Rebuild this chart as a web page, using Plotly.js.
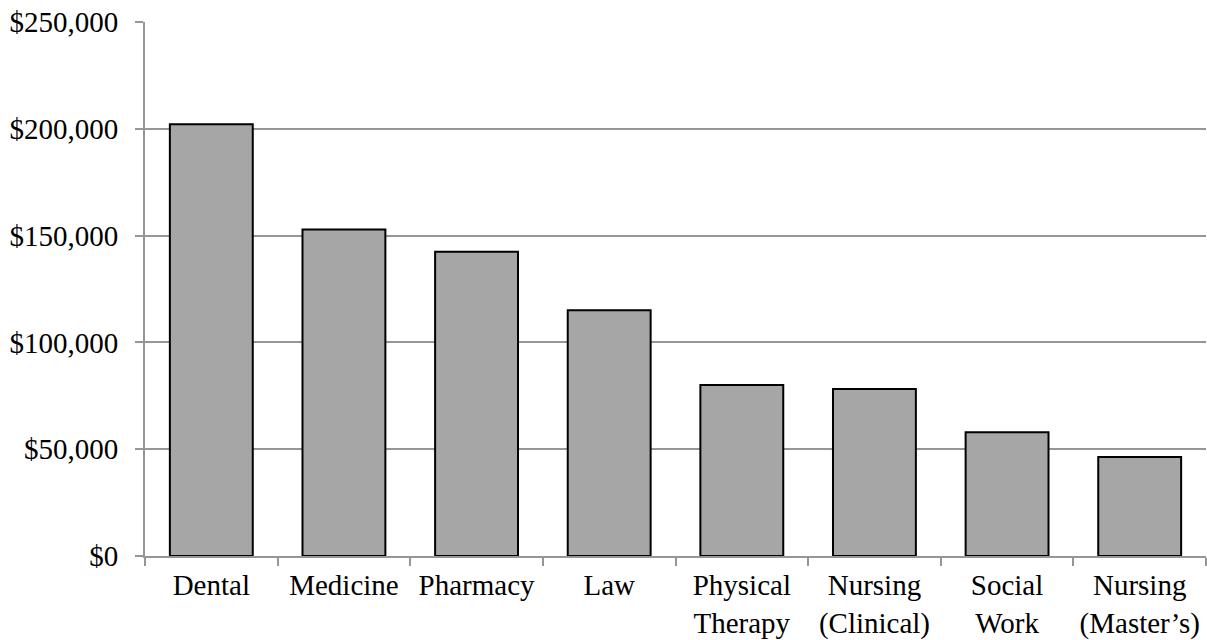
<!DOCTYPE html>
<html>
<head>
<meta charset="utf-8">
<script src="https://cdn.plot.ly/plotly-3.0.1.min.js"></script>
<style>
html,body{margin:0;padding:0;background:#fff;}
#chart{width:1207px;height:640px;}
</style>
</head>
<body>
<div id="chart"></div>
<script>
const categories = ["Dental", "Medicine", "Pharmacy", "Law", "Physical<br>Therapy", "Nursing<br>(Clinical)", "Social<br>Work", "Nursing<br>(Master\u2019s)"];
const values = [202100, 152900, 142400, 115100, 80000, 78200, 57900, 46400];
const yTickValues = [0, 50000, 100000, 150000, 200000, 250000];

const FONT = "'Liberation Serif', 'Times New Roman', Times, serif";

const trace = {
  type: "bar",
  x: categories,
  y: values,
  marker: {color: "#a6a6a6", line: {color: "#000000", width: 2}},
  hoverinfo: "none"
};

const layout = {
  width: 1207,
  height: 640,
  margin: {l: 145, r: 1, t: 22, b: 84, pad: 0},
  paper_bgcolor: "#ffffff",
  plot_bgcolor: "#ffffff",
  showlegend: false,
  bargap: 0.375,
  font: {family: FONT, size: 29, color: "#000000"},
  xaxis: {
    type: "category",
    showgrid: false,
    showline: true,
    linecolor: "#969696",
    linewidth: 2,
    ticks: "outside",
    tickson: "boundaries",
    ticklen: 8,
    tickcolor: "#969696",
    tickwidth: 2,
    ticklabelstandoff: 2,
    tickfont: {family: FONT, size: 29, color: "#000000"},
    automargin: false
  },
  yaxis: {
    range: [0, 250000],
    tickvals: yTickValues,
    tickformat: "$,",
    showgrid: true,
    gridcolor: "#969696",
    gridwidth: 2,
    zeroline: false,
    showline: true,
    linecolor: "#969696",
    linewidth: 2,
    ticks: "outside",
    ticklen: 8,
    tickcolor: "#969696",
    tickwidth: 2,
    ticklabelstandoff: 11,
    tickfont: {family: FONT, size: 29, color: "#000000"},
    automargin: false
  }
};

Plotly.newPlot("chart", [trace], layout, {staticPlot: true, displayModeBar: false});
</script>
</body>
</html>
